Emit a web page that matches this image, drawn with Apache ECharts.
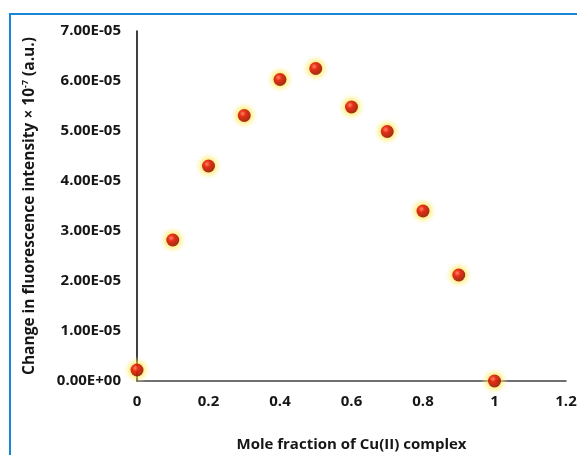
<!DOCTYPE html>
<html lang="en">
<head>
    <meta charset="UTF-8">
    <script src="https://cdn.jsdelivr.net/npm/echarts@6/dist/echarts.min.js"></script>
    <style>
        html, body { margin: 0; padding: 0; background: #fff; }
        #chart { width: 577px; height: 455px; }
    </style>
</head>
<body>
<div id="chart"></div>
<script>
    // mole fraction of Cu(II) complex
    var moleFraction = [0, 0.1, 0.2, 0.3, 0.4, 0.5, 0.6, 0.7, 0.8, 0.9, 1];
    // change in fluorescence intensity
    var intensity = [2.2e-6, 2.82e-5, 4.3e-5, 5.31e-5, 6.03e-5, 6.25e-5, 5.48e-5, 4.99e-5, 3.4e-5, 2.12e-5, 0];

    var points = moleFraction.map(function (x, i) { return [x, intensity[i]]; });

    // 7.00E-05 style labels
    function sci(v) {
        if (v === 0) return '0.00E+00';
        var s = v.toExponential(2).toUpperCase();
        var parts = s.split('E');
        var exp = parseInt(parts[1], 10);
        var sign = exp < 0 ? '-' : '+';
        var e = Math.abs(exp);
        return parts[0] + 'E' + sign + (e < 10 ? '0' + e : e);
    }

    var font = '"Open Sans", "DejaVu Sans", sans-serif';
    var txt = '#161616';
    var myChart = echarts.init(document.getElementById('chart'));
    var option = {
        backgroundColor: '#fff',
        animation: false,
        graphic: [{
            type: 'rect',
            shape: { x: 10, y: 14, width: 620, height: 500 },
            style: { fill: 'none', stroke: '#1a86d8', lineWidth: 2 },
            silent: true
        }],
        grid: { left: 137, right: 11, top: 31, bottom: 74, outerBoundsMode: 'none', containLabel: false },
        xAxis: {
            type: 'value',
            min: 0,
            max: 1.2,
            interval: 0.2,
            name: 'Mole fraction of Cu(II) complex',
            nameLocation: 'middle',
            nameGap: 56,
            nameTextStyle: { fontFamily: font, fontSize: 15, fontWeight: 'bold', color: txt },
            axisLine: { show: true, onZero: false, lineStyle: { color: '#404040', width: 1.5 } },
            axisTick: { show: false },
            splitLine: { show: false },
            axisLabel: {
                fontFamily: font, fontSize: 15, fontWeight: 'bold', color: txt, margin: 13,
                formatter: function (v) { return String(Math.round(v * 10) / 10); }
            }
        },
        yAxis: {
            type: 'value',
            min: 0,
            max: 7e-5,
            interval: 1e-5,
            name: '{n|Change in fluorescence intensity × 10}{s|-7}{n| (a.u.)}',
            nameLocation: 'middle',
            nameGap: 98,
            nameTextStyle: {
                rich: {
                    n: { fontFamily: font, fontSize: 15.5, fontWeight: 'bold', color: txt },
                    s: { fontFamily: font, fontSize: 9, fontWeight: 'bold', color: txt, verticalAlign: 'top', padding: [0, 0, 9, 0] }
                }
            },
            axisLine: { show: true, lineStyle: { color: '#000', width: 1.5 } },
            axisTick: { show: false },
            splitLine: { show: false },
            axisLabel: {
                fontFamily: font, fontSize: 15, fontWeight: 'bold', color: txt, margin: 16,
                formatter: sci
            }
        },
        series: [{
            // yellow glow behind each point
            type: 'scatter',
            data: points,
            symbolSize: 28,
            silent: true,
            itemStyle: {
                color: new echarts.graphic.RadialGradient(0.5, 0.5, 0.5, [
                    { offset: 0, color: 'rgba(255, 222, 30, 1)' },
                    { offset: 0.45, color: 'rgba(255, 228, 60, 0.8)' },
                    { offset: 0.72, color: 'rgba(255, 238, 130, 0.4)' },
                    { offset: 1, color: 'rgba(255, 250, 210, 0)' }
                ])
            }
        }, {
            type: 'scatter',
            data: points,
            symbolSize: 13,
            itemStyle: {
                color: new echarts.graphic.RadialGradient(0.38, 0.35, 0.7, [
                    { offset: 0, color: '#ff6b6b' },
                    { offset: 0.35, color: '#e00000' },
                    { offset: 1, color: '#7a0000' }
                ])
            }
        }]
    };
    myChart.setOption(option);
</script>
</body>
</html>
